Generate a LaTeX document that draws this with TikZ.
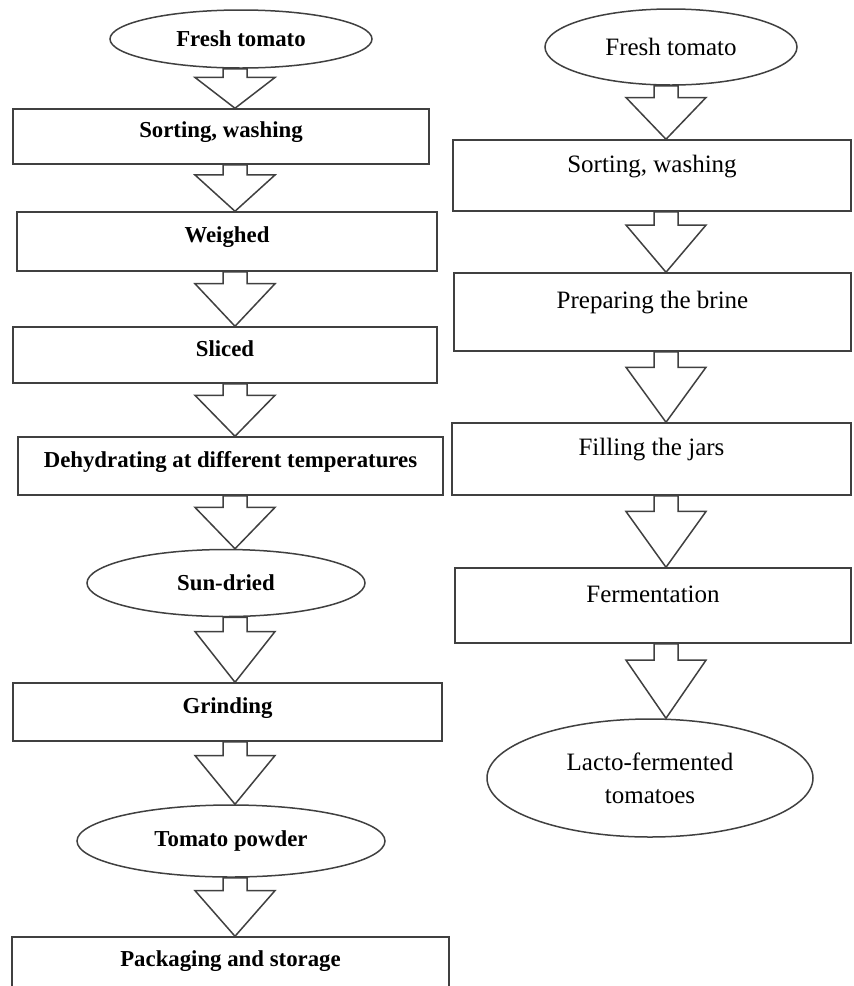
\documentclass[tikz,border=0pt]{standalone}
\usepackage{fontspec}
\setmainfont{Liberation Serif}
\usetikzlibrary{shapes.geometric, calc}

\newcommand{\leftfont}{\fontsize{22.8}{27}\selectfont\bfseries}
\newcommand{\rightfont}{\fontsize{25}{33}\selectfont}

% hollow block arrow from node #1 down to node #2, on column #3
\newcommand{\blockarrow}[3]{%
  \draw[barrow] let \p1=(#1.south -| #3), \p2=(#2.north -| #3), \n1={\y2+0.78*(\y1-\y2)} in
    (\x1-12pt,\y1) -- (\x1-12pt,\n1) -- (\x1-40pt,\n1) -- (\x2,\y2)
    -- (\x1+40pt,\n1) -- (\x1+12pt,\n1) -- (\x1+12pt,\y1) -- cycle;}

\begin{document}
\begin{tikzpicture}[
      x=1pt, y=-1pt,
      box/.style={rectangle, draw=black!75, line width=1.5pt, fill=white, inner sep=0pt},
      leftbox/.style={box, font=\leftfont, text height=15pt, text depth=13pt},
      rightbox/.style={box, font=\rightfont, text height=17pt, text depth=24pt},
      oval/.style={ellipse, draw=black!75, line width=1.5pt, fill=white, inner sep=0pt, align=center},
      barrow/.style={draw=black!75, line width=1.5pt, fill=white, line join=miter}
    ]
    \useasboundingbox (0,0) rectangle (854,986);
    \clip (0,0) rectangle (854,986);

    \coordinate (colL) at (235,0);
    \coordinate (colR) at (666,0);

    % sun-dried tomato powder
    \node[oval, font=\leftfont, minimum width=262, minimum height=58] (fresh1) at (241,39) {Fresh tomato};
    \node[leftbox, minimum width=416, minimum height=55] (sort1) at (221,136.5) {Sorting, washing};
    \node[leftbox, minimum width=420, minimum height=59] (weigh) at (227,241.5) {Weighed};
    \node[leftbox, minimum width=424, minimum height=56] (slice) at (225,355) {Sliced};
    \node[leftbox, minimum width=425, minimum height=58] (dehyd) at (230.5,466) {Dehydrating at different temperatures};
    \node[oval, font=\leftfont, minimum width=278, minimum height=67] (sundry) at (226,583) {Sun-dried};
    \node[leftbox, minimum width=429, minimum height=58] (grind) at (227.5,712) {Grinding};
    \node[oval, font=\leftfont, minimum width=308, minimum height=72] (powder) at (231,841) {Tomato powder};
    \node[leftbox, minimum width=437, minimum height=62, text depth=19pt] (pack) at (230.5,968) {Packaging and storage};

    % lacto-fermented tomatoes
    \node[oval, font=\rightfont, minimum width=252, minimum height=76] (fresh2) at (671,47) {Fresh tomato};
    \node[rightbox, minimum width=398, minimum height=71] (sort2) at (652,175.5) {Sorting, washing};
    \node[rightbox, minimum width=397, minimum height=78] (brine) at (652.5,312) {Preparing the brine};
    \node[rightbox, minimum width=399, minimum height=72] (jars) at (651.5,459) {Filling the jars};
    \node[rightbox, minimum width=396, minimum height=75] (ferm) at (653,605.5) {Fermentation};
    \node[oval, font=\rightfont, minimum width=326, minimum height=118] (lacto) at (650,778) {Lacto-fermented\\tomatoes};

    \blockarrow{fresh1}{sort1}{colL}
    \blockarrow{sort1}{weigh}{colL}
    \blockarrow{weigh}{slice}{colL}
    \blockarrow{slice}{dehyd}{colL}
    \blockarrow{dehyd}{sundry}{colL}
    \blockarrow{sundry}{grind}{colL}
    \blockarrow{grind}{powder}{colL}
    \blockarrow{powder}{pack}{colL}

    \blockarrow{fresh2}{sort2}{colR}
    \blockarrow{sort2}{brine}{colR}
    \blockarrow{brine}{jars}{colR}
    \blockarrow{jars}{ferm}{colR}
    \blockarrow{ferm}{lacto}{colR}
  \end{tikzpicture}
\end{document}
